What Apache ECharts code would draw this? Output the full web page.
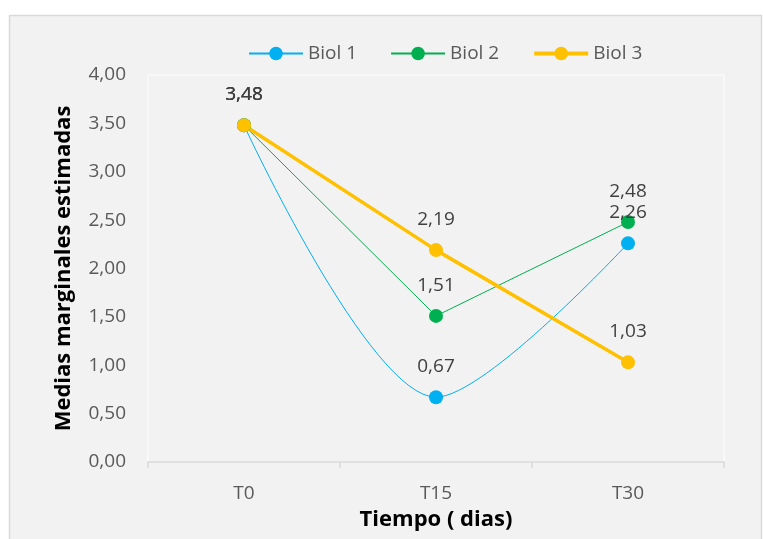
<!DOCTYPE html>
<html>
<head>
<meta charset="utf-8">
<script src="https://cdn.jsdelivr.net/npm/echarts@6/dist/echarts.min.js"></script>
<style>
html,body{margin:0;padding:0;background:#fff;}
#chart{width:763px;height:539px;}
</style>
</head>
<body>
<div id="chart"></div>
<script>
var categorias = ['T0', 'T15', 'T30'];
var biol1 = [3.48, 0.67, 2.26];
var biol2 = [3.48, 1.51, 2.48];
var biol3 = [3.48, 2.19, 1.03];

var fuente = '"Open Sans", sans-serif';
function coma(v){ return v.toFixed(2).replace('.', ','); }

var etiqueta = {
  show: true,
  position: 'top',
  distance: 14,
  fontSize: 19,
  fontFamily: fuente,
  color: '#404040',
  formatter: function(p){ return coma(p.value); }
};

var myChart = echarts.init(document.getElementById('chart'));
var option = {
  backgroundColor: '#ffffff',
  animation: false,
  graphic: [{
    type: 'rect',
    z: -10,
    shape: {x: 9.5, y: 15.5, width: 752, height: 530},
    style: {fill: '#f2f2f2', stroke: '#d9d9d9', lineWidth: 1.5}
  }],
  legend: {
    left: 243,
    top: 39,
    itemWidth: 54,
    itemHeight: 17,
    itemGap: 33,
    textStyle: {fontSize: 19, fontFamily: fuente, color: '#595959'},
    data: [
      {name: 'Biol 1'},
      {name: 'Biol 2'},
      {name: 'Biol 3', lineStyle: {width: 4}}
    ]
  },
  grid: {
    left: 148, right: 39, top: 75, bottom: 77,
    show: true, backgroundColor: 'transparent', borderColor: '#ffffff', borderWidth: 1
  },
  xAxis: {
    type: 'category',
    data: categorias,
    boundaryGap: true,
    name: 'Tiempo ( dias)',
    nameLocation: 'middle',
    nameGap: 47,
    nameTextStyle: {fontSize: 22, fontWeight: 'bold', fontFamily: fuente, color: '#000'},
    axisLine: {lineStyle: {color: '#d9d9d9', width: 1.5}},
    axisTick: {show: true, length: 6, lineStyle: {color: '#d9d9d9', width: 1.5}},
    axisLabel: {margin: 22, fontSize: 19, fontFamily: fuente, color: '#595959'}
  },
  yAxis: {
    type: 'value',
    min: 0, max: 4, interval: 0.5,
    name: 'Medias marginales estimadas',
    nameLocation: 'middle',
    nameGap: 73,
    nameTextStyle: {fontSize: 22, fontWeight: 'bold', fontFamily: fuente, color: '#000'},
    axisLine: {show: false},
    axisTick: {show: false},
    splitLine: {show: false},
    axisLabel: {margin: 22, fontSize: 19, fontFamily: fuente, color: '#595959', formatter: coma}
  },
  series: [
    {
      name: 'Biol 1', type: 'line', data: biol1, smooth: 0.3,
      symbol: 'circle', symbolSize: 14,
      itemStyle: {color: '#00b0f0'},
      lineStyle: {width: 1, color: '#00b0f0'},
      label: etiqueta
    },
    {
      name: 'Biol 2', type: 'line', data: biol2,
      symbol: 'circle', symbolSize: 14,
      itemStyle: {color: '#00b050'},
      lineStyle: {width: 1, color: '#00b050'},
      label: etiqueta
    },
    {
      name: 'Biol 3', type: 'line', data: biol3,
      symbol: 'circle', symbolSize: 14,
      itemStyle: {color: '#ffc000'},
      lineStyle: {width: 3.5, color: '#ffc000'},
      label: etiqueta
    }
  ]
};
myChart.setOption(option);
</script>
</body>
</html>
